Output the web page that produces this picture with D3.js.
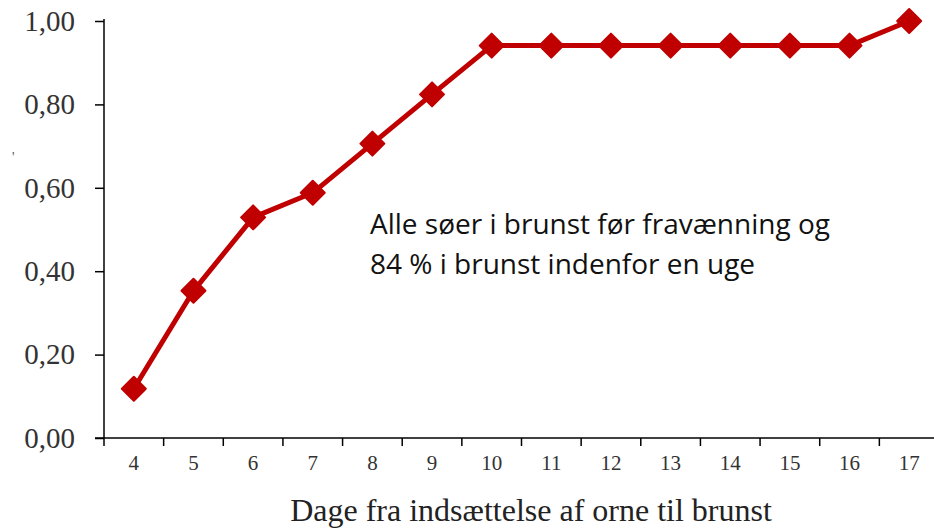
<!DOCTYPE html>
<html>
<head>
<meta charset="utf-8">
<script src="https://cdn.jsdelivr.net/npm/d3@7"></script>
<style>
  body { margin: 0; background: #fff; }
  svg { display: block; }
</style>
</head>
<body>
<svg id="chart"></svg>
<script>
// days from boar introduction to heat, cumulative share of sows in heat
var days = ["4", "5", "6", "7", "8", "9", "10", "11", "12", "13", "14", "15", "16", "17"];
var shares = [0.118, 0.353, 0.529, 0.588, 0.706, 0.824, 0.941, 0.941, 0.941, 0.941, 0.941, 0.941, 0.941, 1.00];
var yTicks = [0, 0.2, 0.4, 0.6, 0.8, 1.0];
var noteLines = ["Alle søer i brunst før fravænning og", "84 % i brunst indenfor en uge"];
var xTitle = "Dage fra indsættelse af orne til brunst";

var width = 934, height = 530;
var svg = d3.select("#chart").attr("width", width).attr("height", height);

var plotLeft = 104, plotRight = 939, plotTop = 21, plotBottom = 438;

var x = d3.scaleBand().domain(days).range([plotLeft, plotRight]);
var y = d3.scaleLinear().domain([0, 1]).range([plotBottom, plotTop]);

// y axis
var yAxis = svg.append("g")
    .attr("transform", "translate(" + plotLeft + ",0)")
    .call(d3.axisLeft(y).tickValues(yTicks).tickSize(9).tickPadding(20)
        .tickFormat(function(d) { return d3.format(".2f")(d).replace(".", ","); }));
yAxis.select(".domain").attr("d", "M0," + (plotTop - 2) + "V" + plotBottom).attr("stroke-width", 1.5);
yAxis.selectAll(".tick line").attr("stroke-width", 1.5);
yAxis.selectAll("text")
    .attr("font-family", "Liberation Serif, serif")
    .attr("font-size", 29)
    .attr("fill", "#333");

// leftover fragment of a cut-off y title
svg.append("text")
    .attr("x", 12).attr("y", 162)
    .attr("font-family", "Liberation Serif, serif")
    .attr("font-size", 14)
    .attr("fill", "#555")
    .text("'");

// x axis, ticks sit between categories
var xAxis = svg.append("g").attr("transform", "translate(0," + plotBottom + ")");
xAxis.append("line")
    .attr("x1", plotLeft - 9).attr("x2", width)
    .attr("stroke", "#000").attr("stroke-width", 1.5);
xAxis.selectAll(".tk")
    .data(days)
    .enter()
    .append("line")
    .attr("class", "tk")
    .attr("x1", function(d) { return x(d); })
    .attr("x2", function(d) { return x(d); })
    .attr("y1", 0).attr("y2", 8)
    .attr("stroke", "#000").attr("stroke-width", 1.5);
xAxis.selectAll(".lb")
    .data(days)
    .enter()
    .append("text")
    .attr("class", "lb")
    .attr("x", function(d) { return x(d) + x.bandwidth() / 2; })
    .attr("y", 32)
    .attr("text-anchor", "middle")
    .attr("font-family", "Liberation Serif, serif")
    .attr("font-size", 21)
    .attr("fill", "#333")
    .text(function(d) { return d; });

svg.append("text")
    .attr("x", 531).attr("y", 521)
    .attr("text-anchor", "middle")
    .attr("font-family", "Liberation Serif, serif")
    .attr("font-size", 32)
    .attr("fill", "#222")
    .text(xTitle);

// line + diamond markers
var data = days.map(function(d, i) { return { day: d, v: shares[i] }; });
var cx = function(d) { return x(d.day) + x.bandwidth() / 2; };

svg.append("path")
    .datum(data)
    .attr("fill", "none")
    .attr("stroke", "#c00000")
    .attr("stroke-width", 5)
    .attr("stroke-linejoin", "round")
    .attr("d", d3.line().x(cx).y(function(d) { return y(d.v); }));

svg.selectAll(".mk")
    .data(data)
    .enter()
    .append("path")
    .attr("class", "mk")
    .attr("d", "M0,-12L12,0L0,12L-12,0Z")
    .attr("fill", "#c00000")
    .attr("stroke", "#c00000")
    .attr("stroke-width", 2)
    .attr("stroke-linejoin", "round")
    .attr("transform", function(d) { return "translate(" + cx(d) + "," + y(d.v) + ")"; });

// annotation
svg.selectAll(".note")
    .data(noteLines)
    .enter()
    .append("text")
    .attr("class", "note")
    .attr("x", 370)
    .attr("y", function(d, i) { return 234 + i * 40; })
    .attr("font-family", "Open Sans, sans-serif")
    .attr("font-size", 28)
    .attr("fill", "#111")
    .text(function(d) { return d; });
</script>
</body>
</html>
